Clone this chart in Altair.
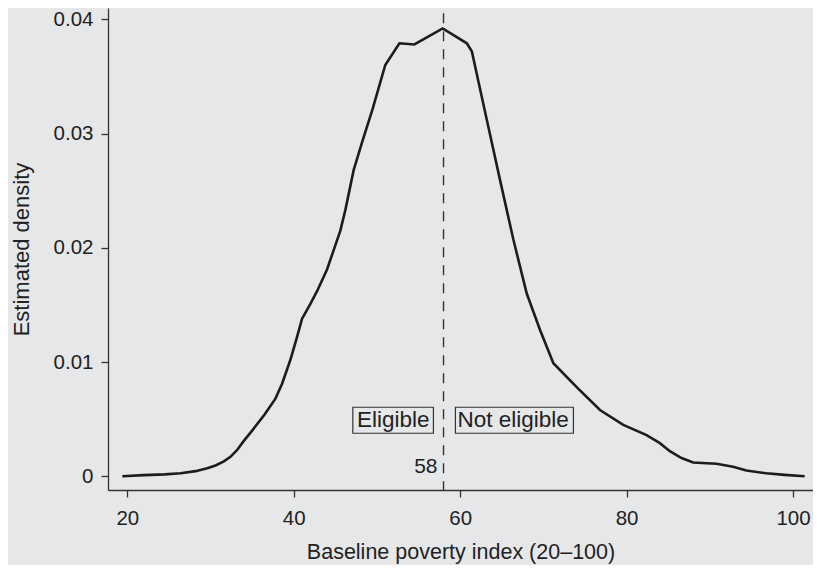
import altair as alt
import pandas as pd

# Density curve
poverty_index = [19.4, 22.0, 24.5, 26.4, 28.2, 29.6, 30.6, 31.6, 32.4, 33.2, 34.0, 35.0,
                 36.5, 37.8, 38.6, 39.6, 40.4, 41.0, 42.0, 42.8, 44.0, 44.8, 45.6, 46.2,
                 47.2, 48.2, 49.5, 51.0, 52.7, 54.5, 57.9, 60.8, 61.4, 63.2, 64.8, 66.4,
                 68.0, 69.6, 71.2, 74.0, 76.8, 79.6, 82.4, 84.0, 85.2, 86.6, 88.0, 90.8,
                 92.8, 94.4, 96.8, 99.0, 101.4]
density = [0.0000, 0.0001, 0.00017, 0.00026, 0.00045, 0.0007, 0.00095, 0.0013, 0.0017,
           0.0023, 0.0031, 0.0040, 0.0054, 0.0068, 0.0081, 0.0102, 0.0122, 0.0138, 0.0151,
           0.0162, 0.0181, 0.0198, 0.0215, 0.0233, 0.0268, 0.0292, 0.0322, 0.0360, 0.0379,
           0.0378, 0.0392, 0.0379, 0.0372, 0.0312, 0.0259, 0.0207, 0.0160, 0.0128, 0.0099,
           0.0078, 0.0058, 0.0045, 0.0036, 0.0029, 0.0022, 0.0016, 0.0012, 0.0011, 0.00084,
           0.0005, 0.00026, 0.00012, 0.0000]

cutoff = [58]
cutoff_label = ["58"]
group_labels = ["Eligible", "Not eligible"]
annotation_level = [0.005, 0.005]

x_ticks = [20, 40, 60, 80, 100]
y_ticks = [0, 0.01, 0.02, 0.03, 0.04]

curve = pd.DataFrame({"x": poverty_index, "y": density})
cut_df = pd.DataFrame({"x": cutoff, "label": cutoff_label})
ann_df = pd.DataFrame({"x": cutoff * 2, "y": annotation_level, "label": group_labels})

FONT = "Liberation Sans"
TXT = "#222222"

x_scale = alt.Scale(domain=[17.68, 102.4], nice=False, zero=False)
y_scale = alt.Scale(domain=[-0.0012, 0.04099], nice=False, zero=False)

x_enc = alt.X("x:Q", scale=x_scale, axis=alt.Axis(
    title="Baseline poverty index (20–100)", values=x_ticks, grid=False,
    tickSize=7, labelPadding=11, titlePadding=13, labelFontSize=20.5, titleFontSize=21.5,
    domainColor="#333333", tickColor="#333333", labelColor=TXT, titleColor=TXT,
    labelFont=FONT, titleFont=FONT, titleFontWeight="normal", domainWidth=1.3, tickWidth=1.3))
y_enc = alt.Y("y:Q", scale=y_scale, axis=alt.Axis(
    title="Estimated density", values=y_ticks, grid=False,
    labelExpr="datum.value == 0 ? '0' : format(datum.value, '.2f')",
    tickSize=7, labelPadding=8, titlePadding=20, labelFontSize=20.5, titleFontSize=22,
    domainColor="#333333", tickColor="#333333", labelColor=TXT, titleColor=TXT,
    labelFont=FONT, titleFont=FONT, titleFontWeight="normal", domainWidth=1.3, tickWidth=1.3))

line = alt.Chart(curve).mark_line(color="#1c1c1c", strokeWidth=2.6, strokeJoin="miter").encode(
    x=x_enc, y=y_enc)

rule = alt.Chart(cut_df).mark_rule(color="#333333", strokeWidth=1.4, strokeDash=[10, 8]).encode(
    x=alt.X("x:Q", scale=x_scale), y=alt.value(5.3), y2=alt.value(482))

cut_text = alt.Chart(cut_df).mark_text(align="right", baseline="alphabetic", dx=-6,
                                        fontSize=21, font=FONT, color=TXT).encode(
    x=alt.X("x:Q", scale=x_scale), y=alt.value(465.3), text="label:N")

left = ann_df[ann_df["label"] == "Eligible"]
right = ann_df[ann_df["label"] == "Not eligible"]

box_left = alt.Chart(left).mark_rect(fill=None, stroke="#333333", strokeWidth=1.2,
                                     xOffset=-90.7, x2Offset=-10.1,
                                     yOffset=-11.9, y2Offset=14.1).encode(
    x=alt.X("x:Q", scale=x_scale), x2="x", y=alt.Y("y:Q", scale=y_scale), y2="y")
box_right = alt.Chart(right).mark_rect(fill=None, stroke="#333333", strokeWidth=1.2,
                                       xOffset=11.9, x2Offset=129.9,
                                       yOffset=-11.9, y2Offset=14.1).encode(
    x=alt.X("x:Q", scale=x_scale), x2="x", y=alt.Y("y:Q", scale=y_scale), y2="y")

text_left = alt.Chart(left).mark_text(align="right", baseline="alphabetic", dx=-14, dy=8,
                                      fontSize=22.5, font=FONT, color=TXT).encode(
    x=alt.X("x:Q", scale=x_scale), y=alt.Y("y:Q", scale=y_scale), text="label:N")
text_right = alt.Chart(right).mark_text(align="left", baseline="alphabetic", dx=14, dy=8,
                                        fontSize=22.5, font=FONT, color=TXT).encode(
    x=alt.X("x:Q", scale=x_scale), y=alt.Y("y:Q", scale=y_scale), text="label:N")

chart = alt.layer(line, rule, cut_text, box_left, box_right, text_left, text_right).properties(
    width=705, height=482,
    autosize=alt.AutoSizeParams(type="none"),
    padding={"left": 100, "top": 0, "right": 0, "bottom": 75},
    background="#e6e7e9",
).configure_view(stroke=None)

chart.save("out.html", embed_options={"renderer": "svg", "actions": False})
